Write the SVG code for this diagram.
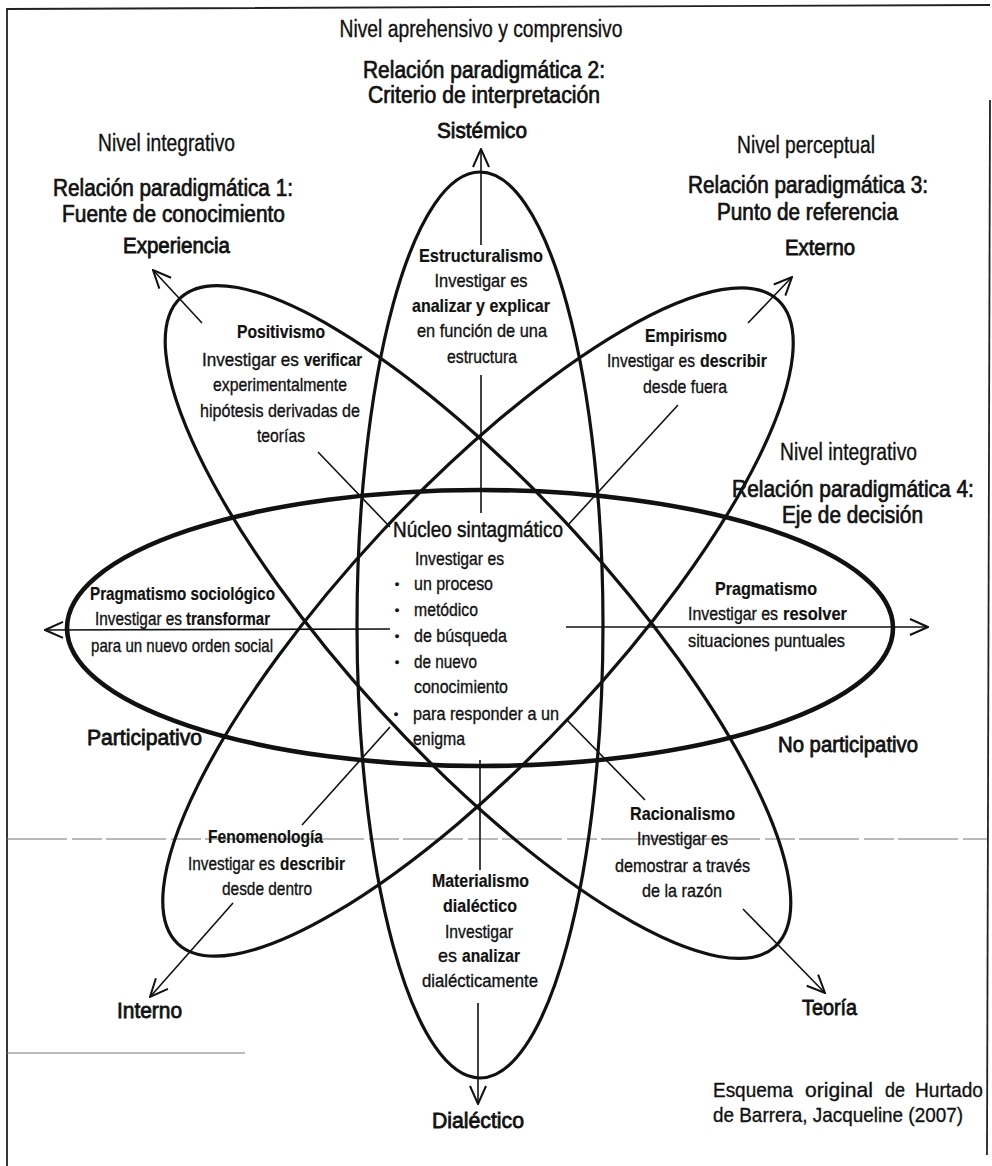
<svg xmlns="http://www.w3.org/2000/svg" width="992" height="1166" viewBox="0 0 992 1166">
<defs>
<style>
text{font-family:"Liberation Sans",Arial,sans-serif;fill:#111;stroke:#111;stroke-width:0.35px;}
.h{font-size:23px;text-anchor:middle;}
.r{font-size:23px;text-anchor:middle;stroke-width:0.7px;}
.p{font-size:22px;text-anchor:middle;stroke-width:0.8px;}
.t{font-size:19px;font-weight:bold;text-anchor:middle;stroke-width:0.2px;}
.b{font-size:19px;text-anchor:middle;}
.bl{font-size:19px;}
.kl{font-size:19px;font-weight:bold;stroke-width:0.2px;}
.bu{font-size:13px;text-anchor:middle;}
.k{font-weight:bold;stroke-width:0.2px;}
.ell{fill:none;stroke:#111;stroke-width:3.2;}
.ellh{fill:none;stroke:#111;stroke-width:4.6;}
.ln{stroke:#111;stroke-width:1.6;fill:none;}
.arrow{stroke:#111;stroke-width:1.6;fill:none;marker-end:url(#arr);}
.frame{stroke:#222;stroke-width:1.8;fill:none;}
.scan{stroke:#777;stroke-width:1;fill:none;}
</style>
<marker id="arr" viewBox="0 0 20 20" refX="19" refY="10" markerWidth="20" markerHeight="20" markerUnits="userSpaceOnUse" orient="auto">
<path d="M1,2 L19,10 L1,18" fill="none" stroke="#111" stroke-width="2"/>
</marker>
</defs>
<rect width="992" height="1166" fill="#fff"/>

<g id="frame">
<path class="frame" d="M7,1166 L7,9 L990,5"/>
<path class="frame" d="M990,100 L987,1155"/>
<path class="scan" d="M7,839 L987,839" stroke-dasharray="60 5 30 4"/>
<path class="scan" d="M7,1053 L245,1053"/>
</g>

<g id="ellipses">
<ellipse class="ell" cx="480" cy="625" rx="123" ry="453"/>
<ellipse class="ell" cx="478" cy="622" rx="440" ry="132" transform="rotate(47.5 478 622)"/>
<ellipse class="ell" cx="478" cy="622" rx="440" ry="132" transform="rotate(-47 478 622)"/>
<ellipse class="ellh" cx="480" cy="628" rx="413" ry="138"/>
</g>

<g id="connectors">
<line class="arrow" x1="481" y1="245" x2="481" y2="149"/>
<line class="arrow" x1="478" y1="1003" x2="478" y2="1104"/>
<line class="arrow" x1="390" y1="629" x2="45" y2="630"/>
<line class="arrow" x1="566" y1="627" x2="928" y2="627"/>
<line class="arrow" x1="202" y1="323" x2="153" y2="270"/>
<line class="arrow" x1="748" y1="323" x2="792" y2="277"/>
<line class="arrow" x1="233" y1="903" x2="150" y2="997"/>
<line class="arrow" x1="743" y1="909" x2="825" y2="993"/>
<line class="ln" x1="481" y1="375" x2="481" y2="513"/>
<line class="ln" x1="480" y1="760" x2="480" y2="870"/>
<line class="ln" x1="318" y1="452" x2="390" y2="527"/>
<line class="ln" x1="678" y1="405" x2="568" y2="525"/>
<line class="ln" x1="302" y1="825" x2="390" y2="727"/>
<line class="ln" x1="567" y1="720" x2="645" y2="800"/>
</g>

<g id="top-labels">
<text class="h" x="481" y="37" textLength="283" lengthAdjust="spacingAndGlyphs">Nivel aprehensivo y comprensivo</text>
<text class="r" x="484" y="78" textLength="242" lengthAdjust="spacingAndGlyphs">Relación paradigmática 2:</text>
<text class="r" x="484" y="103" textLength="232" lengthAdjust="spacingAndGlyphs">Criterio de interpretación</text>
<text class="p" x="482" y="138" textLength="90" lengthAdjust="spacingAndGlyphs">Sistémico</text>
</g>

<g id="left-top-labels">
<text class="h" x="166.5" y="151" textLength="137" lengthAdjust="spacingAndGlyphs">Nivel integrativo</text>
<text class="r" x="173" y="196" textLength="240" lengthAdjust="spacingAndGlyphs">Relación paradigmática 1:</text>
<text class="r" x="173.5" y="222" textLength="223" lengthAdjust="spacingAndGlyphs">Fuente de conocimiento</text>
<text class="p" x="176.5" y="253" textLength="107" lengthAdjust="spacingAndGlyphs">Experiencia</text>
</g>

<g id="right-top-labels">
<text class="h" x="806" y="153" textLength="138" lengthAdjust="spacingAndGlyphs">Nivel perceptual</text>
<text class="r" x="808" y="193" textLength="240" lengthAdjust="spacingAndGlyphs">Relación paradigmática 3:</text>
<text class="r" x="807.5" y="220" textLength="181" lengthAdjust="spacingAndGlyphs">Punto de referencia</text>
<text class="p" x="820" y="255" textLength="70" lengthAdjust="spacingAndGlyphs">Externo</text>
</g>

<g id="right-mid-labels">
<text class="h" x="848.5" y="460" textLength="137" lengthAdjust="spacingAndGlyphs">Nivel integrativo</text>
<text class="r" transform="translate(853 497) scale(0.91 1)" x="0" y="0">Relación paradigmática 4:</text>
<text class="r" x="852.5" y="523" textLength="141" lengthAdjust="spacingAndGlyphs">Eje de decisión</text>
</g>

<g id="pole-labels">
<text class="p" x="144.5" y="745" textLength="115" lengthAdjust="spacingAndGlyphs">Participativo</text>
<text class="p" x="848" y="752" textLength="140" lengthAdjust="spacingAndGlyphs">No participativo</text>
<text class="p" x="149.5" y="1018" textLength="65" lengthAdjust="spacingAndGlyphs">Interno</text>
<text class="p" x="829.5" y="1015" textLength="55" lengthAdjust="spacingAndGlyphs">Teoría</text>
<text class="p" x="478" y="1128" textLength="92" lengthAdjust="spacingAndGlyphs">Dialéctico</text>
</g>

<g id="node-estructuralismo">
<text class="t" x="481" y="262" textLength="124" lengthAdjust="spacingAndGlyphs">Estructuralismo</text>
<text class="b" x="481" y="287" textLength="93" lengthAdjust="spacingAndGlyphs">Investigar es</text>
<text class="b k" x="481" y="312" textLength="138" lengthAdjust="spacingAndGlyphs">analizar y explicar</text>
<text class="b" x="482" y="337" textLength="130" lengthAdjust="spacingAndGlyphs">en función de una</text>
<text class="b" x="482" y="363" textLength="70" lengthAdjust="spacingAndGlyphs">estructura</text>
</g>

<g id="node-positivismo">
<text class="t" x="281" y="338" textLength="88" lengthAdjust="spacingAndGlyphs">Positivismo</text>
<text class="bl" transform="translate(202 366) scale(0.9 1)">Investigar es</text>
<text class="kl" transform="translate(304 366) scale(0.785 1)">verificar</text>
<text class="b" x="280" y="391" textLength="134" lengthAdjust="spacingAndGlyphs">experimentalmente</text>
<text class="b" x="280" y="417" textLength="160" lengthAdjust="spacingAndGlyphs">hipótesis derivadas de</text>
<text class="b" x="281" y="442" textLength="48" lengthAdjust="spacingAndGlyphs">teorías</text>
</g>

<g id="node-empirismo">
<text class="t" x="686" y="342" textLength="82" lengthAdjust="spacingAndGlyphs">Empirismo</text>
<text class="bl" transform="translate(607 367) scale(0.817 1)">Investigar es</text>
<text class="kl" transform="translate(700 367) scale(0.834 1)">describir</text>
<text class="b" x="685" y="393" textLength="84" lengthAdjust="spacingAndGlyphs">desde fuera</text>
</g>

<g id="node-pragmatismo-sociologico">
<text class="t" x="182.5" y="600" textLength="185" lengthAdjust="spacingAndGlyphs">Pragmatismo sociológico</text>
<text class="bl" transform="translate(95 625) scale(0.808 1)">Investigar es</text>
<text class="kl" transform="translate(186 625) scale(0.788 1)">transformar</text>
<text class="b" x="182" y="652" textLength="182" lengthAdjust="spacingAndGlyphs">para un nuevo orden social</text>
</g>

<g id="node-pragmatismo">
<text class="t" x="766" y="595" textLength="102" lengthAdjust="spacingAndGlyphs">Pragmatismo</text>
<text class="bl" transform="translate(688 620) scale(0.836 1)">Investigar es</text>
<text class="kl" transform="translate(783 620) scale(0.866 1)">resolver</text>
<text class="b" x="766.5" y="647" textLength="157" lengthAdjust="spacingAndGlyphs">situaciones puntuales</text>
</g>

<g id="node-nucleo">
<text class="h" x="478" y="537" textLength="170" lengthAdjust="spacingAndGlyphs" style="font-size:22px;stroke-width:0.5px">Núcleo sintagmático</text>
<text class="bl" x="415" y="565" textLength="89" lengthAdjust="spacingAndGlyphs">Investigar es</text>
<text class="bu" x="397" y="589">•</text>
<text class="bl" x="414" y="590" textLength="79" lengthAdjust="spacingAndGlyphs">un proceso</text>
<text class="bu" x="397" y="615">•</text>
<text class="bl" x="414" y="616" textLength="64" lengthAdjust="spacingAndGlyphs">metódico</text>
<text class="bu" x="397" y="641">•</text>
<text class="bl" x="414" y="642" textLength="93" lengthAdjust="spacingAndGlyphs">de búsqueda</text>
<text class="bu" x="397" y="667">•</text>
<text class="bl" x="414" y="668" textLength="63" lengthAdjust="spacingAndGlyphs">de nuevo</text>
<text class="bl" x="414" y="693" textLength="94" lengthAdjust="spacingAndGlyphs">conocimiento</text>
<text class="bu" x="396" y="719">•</text>
<text class="bl" x="413" y="720" textLength="146" lengthAdjust="spacingAndGlyphs">para responder a un</text>
<text class="bl" x="413" y="745" textLength="52" lengthAdjust="spacingAndGlyphs">enigma</text>
</g>

<g id="node-fenomenologia">
<text class="t" x="265.5" y="843" textLength="115" lengthAdjust="spacingAndGlyphs">Fenomenología</text>
<text class="bl" transform="translate(188 870) scale(0.808 1)">Investigar es</text>
<text class="kl" transform="translate(280 870) scale(0.809 1)">describir</text>
<text class="b" x="267" y="895" textLength="90" lengthAdjust="spacingAndGlyphs">desde dentro</text>
</g>

<g id="node-racionalismo">
<text class="t" x="682.5" y="820" textLength="105" lengthAdjust="spacingAndGlyphs">Racionalismo</text>
<text class="b" x="682.5" y="845" textLength="91" lengthAdjust="spacingAndGlyphs">Investigar es</text>
<text class="b" x="682.5" y="872" textLength="135" lengthAdjust="spacingAndGlyphs">demostrar a través</text>
<text class="b" x="682" y="897" textLength="80" lengthAdjust="spacingAndGlyphs">de la razón</text>
</g>

<g id="node-materialismo">
<text class="t" x="480.5" y="887" textLength="97" lengthAdjust="spacingAndGlyphs">Materialismo</text>
<text class="t" x="480" y="912" textLength="74" lengthAdjust="spacingAndGlyphs">dialéctico</text>
<text class="b" x="479" y="938" textLength="68" lengthAdjust="spacingAndGlyphs">Investigar</text>
<text class="bl" transform="translate(438 962) scale(0.945 1)">es</text>
<text class="kl" transform="translate(462 962) scale(0.819 1)">analizar</text>
<text class="b" x="480" y="987" textLength="116" lengthAdjust="spacingAndGlyphs">dialécticamente</text>
</g>

<g id="credit">
<text style="font-size:21px"><tspan x="713" y="1097" textLength="80" lengthAdjust="spacingAndGlyphs">Esquema</tspan><tspan x="805" y="1097" textLength="68" lengthAdjust="spacingAndGlyphs">original</tspan><tspan x="885" y="1097" textLength="20" lengthAdjust="spacingAndGlyphs">de</tspan><tspan x="915" y="1097" textLength="68" lengthAdjust="spacingAndGlyphs">Hurtado</tspan></text>
<text style="font-size:21px" x="713" y="1122" textLength="250" lengthAdjust="spacingAndGlyphs">de Barrera, Jacqueline (2007)</text>
</g>
</svg>
